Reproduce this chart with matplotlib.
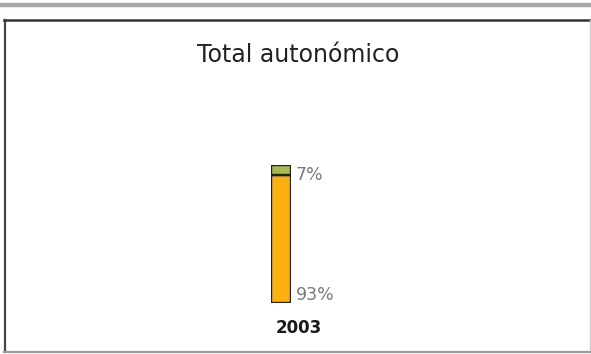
import matplotlib
matplotlib.use("Agg")
import matplotlib.pyplot as plt
from matplotlib.lines import Line2D

title = "Total autonómico"
years = ["2003"]
share_main = [93]
share_other = [7]
labels_main = ["93%"]
labels_other = ["7%"]

W, H = 591, 354
fig = plt.figure(figsize=(W / 100, H / 100), dpi=100)
fig.patch.set_facecolor("white")

def fx(px):
    return px / W

def fy(py):
    return 1 - py / H

# top gray band
fig.add_artist(Line2D([0, 1], [fy(5), fy(5)], transform=fig.transFigure,
                      color="#a9a5a5", lw=3.2))
# frame
fig.add_artist(Line2D([fx(5), fx(5)], [fy(20), fy(352)], transform=fig.transFigure,
                      color="#444444", lw=1.6))
fig.add_artist(Line2D([fx(4), fx(591)], [fy(20), fy(20)], transform=fig.transFigure,
                      color="#333333", lw=1.8))
fig.add_artist(Line2D([fx(590), fx(590)], [fy(20), fy(352)], transform=fig.transFigure,
                      color="#cccccc", lw=1.0))
fig.add_artist(Line2D([fx(4), fx(591)], [fy(352), fy(352)], transform=fig.transFigure,
                      color="#9a9a9a", lw=1.6))

fig.text(fx(298), fy(55), title, ha="center", va="center", fontsize=17,
         color="#222222", family="DejaVu Sans")

ax = fig.add_axes([fx(271), fy(303), fx(20), (303 - 165) / H])
ax.set_xlim(-0.5, 0.5)
ax.set_ylim(0, 100)
ax.axis("off")

x = range(len(years))
ax.bar(x, share_main, width=1.0, color="#fbb010", edgecolor="#222222", linewidth=1.7, zorder=2)
ax.bar(x, share_other, bottom=share_main, width=1.0, color="#a7b94f",
       edgecolor="#222222", linewidth=1.7, zorder=2)

for i in x:
    ax.annotate(labels_other[i], xy=(0.5, share_main[i] + share_other[i]),
                xytext=(5, -10), textcoords="offset pixels", ha="left", va="center",
                fontsize=12.5, color="#7a7a7a", annotation_clip=False)
    ax.annotate(labels_main[i], xy=(0.5, 0), xytext=(5, 8),
                textcoords="offset pixels", ha="left", va="center",
                fontsize=12.5, color="#7a7a7a", annotation_clip=False)
    ax.annotate(years[i], xy=(i, 0), xytext=(18, -25), textcoords="offset pixels",
                ha="center", va="center", fontsize=12, fontweight="bold",
                color="#1a1a1a", annotation_clip=False)

fig.savefig("out.png", dpi=100)
